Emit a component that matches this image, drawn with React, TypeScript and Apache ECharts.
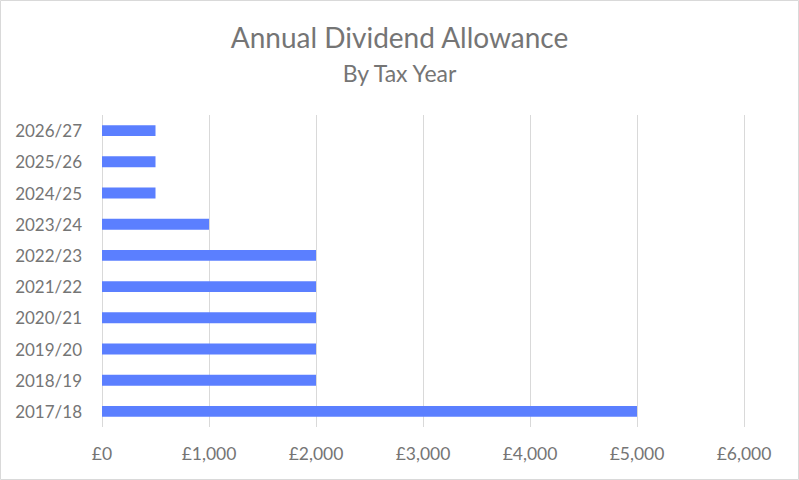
import React, { useEffect, useRef } from "react";
import * as echarts from "echarts";

const categories = ["2017/18", "2018/19", "2019/20", "2020/21", "2021/22", "2022/23", "2023/24", "2024/25", "2025/26", "2026/27"];
const allowance = [5000, 2000, 2000, 2000, 2000, 2000, 1000, 500, 500, 500];
const titleText = "Annual Dividend Allowance";
const subtitleText = "By Tax Year";

export default function App() {
  const ref = useRef<HTMLDivElement>(null);
  useEffect(() => {
    document.body.style.margin = "0";
    const chart = echarts.init(ref.current!, null, { renderer: "svg" });
    const font = "Lato, 'Open Sans', sans-serif";
    chart.setOption({
      animation: false,
      backgroundColor: "#ffffff",
      textStyle: { fontFamily: font },
      title: {
        text: titleText,
        subtext: subtitleText,
        left: "center",
        top: 18,
        itemGap: 10,
        textStyle: { fontFamily: font, fontSize: 28, fontWeight: "normal", color: "#757575" },
        subtextStyle: { fontFamily: font, fontSize: 23, color: "#757575" },
      },
      graphic: [
        {
          type: "rect",
          shape: { x: 0.5, y: 0.5, width: 798, height: 479 },
          style: { fill: "none", stroke: "#d9d9d9", lineWidth: 1 },
          silent: true,
        },
      ],
      grid: { left: 102, right: 55, top: 115, bottom: 53, containLabel: false },
      xAxis: {
        type: "value",
        min: 0,
        max: 6000,
        interval: 1000,
        axisLine: { show: false },
        axisTick: { show: false },
        splitLine: { show: true, lineStyle: { color: "#d9d9d9", width: 1 } },
        axisLabel: {
          color: "#757575",
          fontSize: 17.5,
          fontFamily: font,
          margin: 17,
          formatter: (v: number) => "£" + v.toLocaleString("en-GB"),
        },
      },
      yAxis: {
        type: "category",
        data: categories,
        axisLine: { show: false },
        axisTick: { show: false },
        splitLine: { show: false },
        axisLabel: { color: "#757575", fontSize: 17, fontFamily: font, margin: 20 },
      },
      series: [
        {
          type: "bar",
          data: allowance,
          barWidth: "35%",
          itemStyle: { color: "#5b7fff" },
        },
      ],
    });
    return () => chart.dispose();
  }, []);
  return <div ref={ref} style={{ width: 799, height: 480 }} />;
}
